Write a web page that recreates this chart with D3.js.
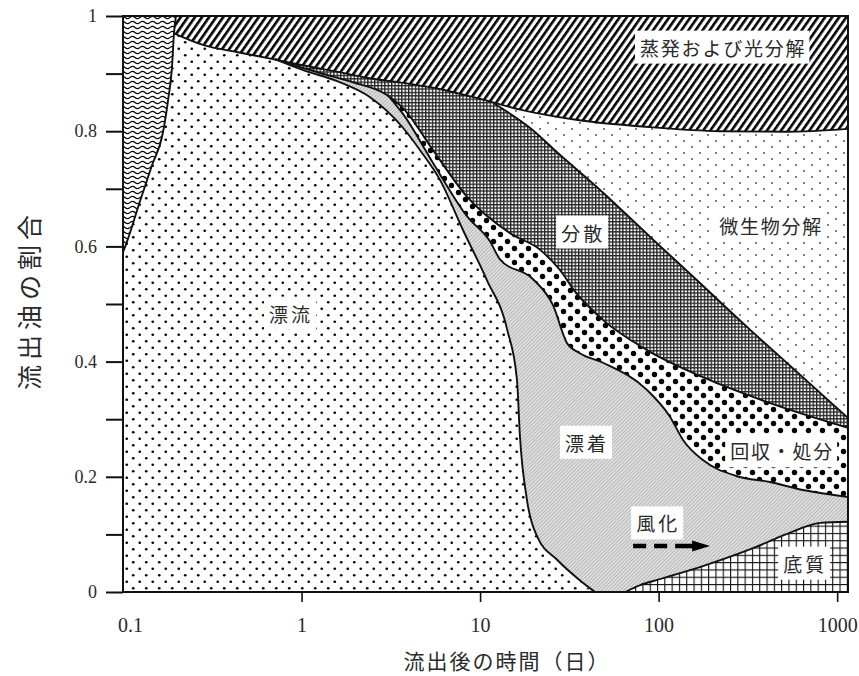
<!DOCTYPE html>
<html>
<head>
<meta charset="utf-8">
<script src="https://cdn.jsdelivr.net/npm/d3@7"></script>
<style>
  body { margin: 0; background: #fff; }
  .tick text { font-family: "Liberation Serif", serif; fill: #2a2a2a; }
  .jp { font-family: "Noto Sans CJK JP", sans-serif; fill: #2a2a2a; }
</style>
</head>
<body>
<svg id="chart" width="859" height="676"></svg>
<script>
// 境界線（経過日数, 流出油の割合）
const wavyDays = [0.1, 0.103, 0.125, 0.145, 0.168, 0.179, 0.188, 0.193, 0.198];
const wavyFrac = [0.59, 0.60, 0.68, 0.74, 0.80, 0.855, 0.91, 0.97, 1.0];

const evapDays = [0.193, 0.28, 0.44, 0.67, 1.0, 1.6, 2.4, 3.7, 6.2, 10, 17, 36, 90, 220, 520, 1150];
const evapFrac = [0.97, 0.95, 0.937, 0.926, 0.915, 0.903, 0.892, 0.884, 0.872, 0.856, 0.837, 0.819, 0.807, 0.800, 0.799, 0.804];

const microDays = [12, 19, 28, 47, 90, 171, 326, 621, 1150];
const microFrac = [0.848, 0.806, 0.759, 0.698, 0.616, 0.536, 0.455, 0.377, 0.302];

const dispDays = [0.71, 1.27, 1.94, 3.0, 3.7, 5.45, 8.46, 14.7, 21.7, 28, 34.1, 48.9, 86, 177, 421, 1150];
const dispFrac = [0.925, 0.901, 0.885, 0.863, 0.840, 0.767, 0.686, 0.623, 0.594, 0.559, 0.521, 0.472, 0.420, 0.373, 0.328, 0.285];

const recDays = [3.13, 3.7, 5.45, 8.46, 11.4, 12.9, 19.8, 25.6, 30.7, 36, 48.9, 86, 116, 137, 177, 275, 421, 645, 1150];
const recFrac = [0.858, 0.830, 0.745, 0.652, 0.608, 0.578, 0.543, 0.498, 0.432, 0.415, 0.398, 0.351, 0.304, 0.264, 0.229, 0.201, 0.191, 0.177, 0.165];

const driftDays = [0.71, 1.02, 1.58, 2.42, 3.7, 4.61, 5.97, 8.03, 10.9, 14.2, 16.1, 16.7, 18.3, 20.9, 27, 36, 44.1];
const driftFrac = [0.925, 0.906, 0.887, 0.859, 0.806, 0.767, 0.715, 0.628, 0.542, 0.455, 0.368, 0.273, 0.160, 0.096, 0.056, 0.021, 0];

const sedDays = [64.9, 78.8, 98, 177, 338, 525, 804, 1150];
const sedFrac = [0, 0.012, 0.021, 0.045, 0.076, 0.101, 0.120, 0.122];

const xTicks = [0.1, 1, 10, 100, 1000];
const yTicks = d3.range(0, 11).map((i) => i / 10);

// 注記（ラベル位置はデータ座標）
const labels = [
  { text: '蒸発および光分解', day: 230, frac: 0.946 },
  { text: '微生物分解', day: 427, frac: 0.637 },
  { text: '分散', day: 37.8, frac: 0.625 },
  { text: '漂流', day: 0.873, frac: 0.484 },
  { text: '漂着', day: 39.7, frac: 0.26 },
  { text: '回収・処分', day: 492, frac: 0.245 },
  { text: '風化', day: 99.4, frac: 0.12 },
  { text: '底質', day: 662, frac: 0.05 }
];
const arrowDays = [72, 154, 194];
const arrowFrac = 0.08;

const width = 859;
const height = 676;
const margin = { top: 16, right: 11, bottom: 84, left: 123 };

const svg = d3.select('#chart');
svg.append('rect').attr('width', width).attr('height', height).attr('fill', '#fff');

const x = d3.scaleLog().domain([0.1, 1150]).range([margin.left, width - margin.right]);
const y = d3.scaleLinear().domain([0, 1]).range([height - margin.bottom, margin.top]);

const defs = svg.append('defs');
defs.append('clipPath').attr('id', 'plot-clip')
  .append('rect')
  .attr('x', x.range()[0]).attr('y', y.range()[1])
  .attr('width', x.range()[1] - x.range()[0]).attr('height', y.range()[0] - y.range()[1]);

function pattern(id, w, h, transform) {
  const p = defs.append('pattern').attr('id', id)
    .attr('patternUnits', 'userSpaceOnUse').attr('width', w).attr('height', h);
  if (transform) p.attr('patternTransform', transform);
  return p;
}

// 漂流：細かい点
let p = pattern('p-drift', 13, 13);
p.append('rect').attr('width', 13).attr('height', 13).attr('fill', '#fff');
p.selectAll('circle').data([[3.25, 3.25], [9.75, 9.75]]).join('circle')
  .attr('cx', (d) => d[0]).attr('cy', (d) => d[1]).attr('r', 1.35).attr('fill', '#000');

// 微生物分解：まばらな灰色の点
p = pattern('p-micro', 16, 12);
p.append('rect').attr('width', 16).attr('height', 12).attr('fill', '#fff');
p.selectAll('circle').data([[4, 3], [12, 9]]).join('circle')
  .attr('cx', (d) => d[0]).attr('cy', (d) => d[1]).attr('r', 1).attr('fill', '#555');

// 回収・処分：大きな黒点
p = pattern('p-rec', 14, 14);
p.append('rect').attr('width', 14).attr('height', 14).attr('fill', '#fff');
p.selectAll('circle').data([[3.5, 3.5], [10.5, 10.5]]).join('circle')
  .attr('cx', (d) => d[0]).attr('cy', (d) => d[1]).attr('r', 2.7).attr('fill', '#000');

// 分散：細かい網目
p = pattern('p-disp', 3.4, 3.4);
p.append('rect').attr('width', 3.4).attr('height', 3.4).attr('fill', '#fff');
p.append('rect').attr('width', 3.4).attr('height', 1.3).attr('fill', '#222');
p.append('rect').attr('width', 1.3).attr('height', 3.4).attr('fill', '#222');

// 蒸発および光分解：斜線
p = pattern('p-evap', 5.8, 10, 'rotate(35)');
p.append('rect').attr('width', 5.8).attr('height', 10).attr('fill', '#fff');
p.append('rect').attr('width', 2.6).attr('height', 10).attr('fill', '#000');

// 漂着：薄い灰色の細斜線
p = pattern('p-strand', 2.6, 10, 'rotate(45)');
p.append('rect').attr('width', 2.6).attr('height', 10).attr('fill', '#e2e2e2');
p.append('rect').attr('width', 1).attr('height', 10).attr('fill', '#b4b4b4');

// 底質：格子
p = pattern('p-sed', 7.3, 7.3);
p.append('rect').attr('width', 7.3).attr('height', 7.3).attr('fill', '#fff');
p.append('rect').attr('width', 7.3).attr('height', 1.1).attr('fill', '#111');
p.append('rect').attr('width', 1.1).attr('height', 7.3).attr('fill', '#111');

// 左端：波線
p = pattern('p-wavy', 10, 5);
p.append('rect').attr('width', 10).attr('height', 5).attr('fill', '#fff');
p.append('path').attr('d', 'M0 2.5 Q2.5 0.4 5 2.5 T10 2.5')
  .attr('fill', 'none').attr('stroke', '#000').attr('stroke-width', 1.25);

const pts = (days, fracs) => days.map((d, i) => [d, fracs[i]]);
const curve = d3.curveMonotoneX;
const areaUp = d3.area().x((d) => x(d[0])).y0((d) => y(d[1])).y1(y(1)).curve(curve);
const areaDown = d3.area().x((d) => x(d[0])).y0(y(0)).y1((d) => y(d[1])).curve(curve);
const line = d3.line().x((d) => x(d[0])).y((d) => y(d[1])).curve(curve);

const domain = x.domain();
const driftPts = pts(driftDays, driftFrac);

// 下の層から順に、境界線より上を塗り重ねる
const fills = [
  { id: 'drift', gen: areaUp, data: [[domain[0], 0], [domain[1], 0]] },
  { id: 'strand', gen: areaUp, data: driftPts.concat([[domain[1], 0]]) },
  { id: 'sed', gen: areaDown, data: pts(sedDays, sedFrac) },
  { id: 'rec', gen: areaUp, data: pts(recDays, recFrac) },
  { id: 'disp', gen: areaUp, data: pts(dispDays, dispFrac) },
  { id: 'micro', gen: areaUp, data: pts(microDays, microFrac) },
  { id: 'evap', gen: areaUp, data: pts(evapDays, evapFrac) },
  { id: 'wavy', gen: areaUp, data: pts(wavyDays, wavyFrac) }
];

const plot = svg.append('g').attr('clip-path', 'url(#plot-clip)');
plot.selectAll('path.region')
  .data(fills)
  .join('path')
  .attr('class', 'region')
  .attr('d', (d) => d.gen(d.data))
  .attr('fill', (d) => `url(#p-${d.id})`);

const boundaries = [
  pts(wavyDays, wavyFrac),
  pts(evapDays, evapFrac),
  pts(microDays, microFrac),
  pts(dispDays, dispFrac),
  pts(recDays, recFrac),
  driftPts,
  pts(sedDays, sedFrac)
];
plot.selectAll('path.boundary')
  .data(boundaries)
  .join('path')
  .attr('class', 'boundary')
  .attr('d', line)
  .attr('fill', 'none')
  .attr('stroke', '#111')
  .attr('stroke-width', 1.9);

// ラベル（白抜き）
const labelG = svg.append('g');
labels.forEach((d) => {
  const g = labelG.append('g');
  const t = g.append('text')
    .attr('class', 'jp')
    .attr('x', x(d.day))
    .attr('y', y(d.frac))
    .attr('text-anchor', 'middle')
    .attr('dominant-baseline', 'central')
    .attr('font-size', 19)
    .attr('letter-spacing', d.text.length > 2 ? 1.8 : 3)
    .text(d.text);
  const b = t.node().getBBox();
  g.insert('rect', 'text')
    .attr('x', b.x - 5).attr('y', b.y - 3)
    .attr('width', b.width + 8).attr('height', b.height + 6)
    .attr('fill', '#fff');
});

// 風化の矢印
const ay = y(arrowFrac);
svg.append('line')
  .attr('x1', x(arrowDays[0])).attr('x2', x(arrowDays[1]) + 1)
  .attr('y1', ay).attr('y2', ay)
  .attr('stroke', '#000').attr('stroke-width', 4.5)
  .attr('stroke-dasharray', '13 8 13 8 40');
svg.append('path')
  .attr('d', `M${x(arrowDays[1])},${ay - 5.5}L${x(arrowDays[2])},${ay}L${x(arrowDays[1])},${ay + 5.5}Z`)
  .attr('fill', '#000');

// 軸
const yAxis = svg.append('g')
  .attr('transform', `translate(${margin.left},0)`)
  .call(d3.axisLeft(y).tickValues(yTicks).tickSize(17).tickPadding(9)
    .tickFormat((d) => (Math.round(d * 10) % 2 === 0 ? d3.format('~g')(d) : '')));
yAxis.select('.domain').remove();
yAxis.selectAll('.tick line').attr('stroke', '#111').attr('stroke-width', 2);
yAxis.selectAll('.tick text').attr('font-size', 18);

const xAxis = svg.append('g')
  .attr('transform', `translate(0,${y(0)})`)
  .call(d3.axisBottom(x).tickValues(xTicks).tickSize(10).tickPadding(16).tickFormat(d3.format('~g')));
xAxis.select('.domain').remove();
xAxis.selectAll('.tick line').attr('stroke', '#111').attr('stroke-width', 1.6);
xAxis.selectAll('.tick text').attr('font-size', 20);
xAxis.selectAll('.tick').filter((d) => d === xTicks[0]).each(function () {
  d3.select(this).select('line').remove();
  d3.select(this).select('text').attr('dx', 7);
});

// 枠
svg.append('rect')
  .attr('x', x.range()[0]).attr('y', y.range()[1])
  .attr('width', x.range()[1] - x.range()[0]).attr('height', y.range()[0] - y.range()[1])
  .attr('fill', 'none').attr('stroke', '#111').attr('stroke-width', 2);

// 軸タイトル
svg.append('text')
  .attr('class', 'jp')
  .attr('x', 507).attr('y', 660)
  .attr('text-anchor', 'middle').attr('dominant-baseline', 'central')
  .attr('font-size', 21).attr('letter-spacing', 2)
  .text('流出後の時間（日）');
svg.append('text')
  .attr('class', 'jp')
  .attr('transform', 'translate(28,300) rotate(-90)')
  .attr('text-anchor', 'middle').attr('dominant-baseline', 'central')
  .attr('font-size', 25).attr('letter-spacing', 5)
  .text('流出油の割合');
</script>
</body>
</html>
